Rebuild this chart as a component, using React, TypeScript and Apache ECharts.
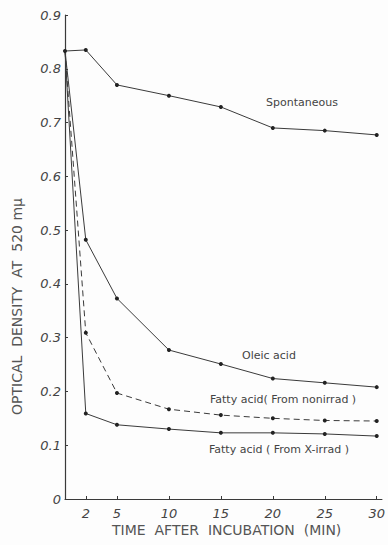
import React, { useEffect, useRef } from "react";
import * as echarts from "echarts";

// Incubation times (min) and optical density readings at 520 mμ
const times = [0, 2, 5, 10, 15, 20, 25, 30];
const spontaneous = [0.833, 0.835, 0.77, 0.75, 0.729, 0.69, 0.685, 0.677];
const oleicAcid = [0.833, 0.482, 0.373, 0.277, 0.251, 0.224, 0.216, 0.208];
const fattyNonirrad = [0.833, 0.309, 0.197, 0.167, 0.156, 0.15, 0.146, 0.145];
const fattyXirrad = [0.833, 0.159, 0.138, 0.13, 0.123, 0.123, 0.121, 0.117];

const xTicks = [2, 5, 10, 15, 20, 25, 30];
const yTicks = [0, 0.1, 0.2, 0.3, 0.4, 0.5, 0.6, 0.7, 0.8, 0.9];

const ink = "#3a3a3a";
const font = "'DejaVu Sans', sans-serif";

function pairs(vals: number[], dotFirst: boolean) {
  return times.map((t, i) =>
    i === 0 && !dotFirst ? { value: [t, vals[i]], symbol: "none" } : { value: [t, vals[i]] }
  );
}

function lineSeries(name: string, vals: number[], type: string, dotFirst = false) {
  return {
    name,
    type: "line",
    data: pairs(vals, dotFirst),
    symbol: "circle",
    symbolSize: 4,
    itemStyle: { color: "#222" },
    lineStyle: { color: ink, width: 1, type: type === "dashed" ? [6, 4] : "solid" },
    silent: true,
  };
}

export default function App() {
  const ref = useRef<HTMLDivElement>(null);
  useEffect(() => {
    if (!ref.current) return;
    const chart = echarts.init(ref.current, undefined, { renderer: "svg" });
    const curveLabel = (text: string, x: number, y: number) => ({
      type: "text",
      left: x,
      top: y,
      style: { text, font: `11px ${font}`, fill: "#444" },
    });
    chart.setOption({
      animation: false,
      backgroundColor: "#fdfdfd",
      grid: { left: 65, right: 0, top: 15, bottom: 46 },
      xAxis: {
        type: "value",
        min: 0,
        max: 30.5,
        axisLine: { lineStyle: { color: ink, width: 1.2 } },
        axisTick: { show: true, inside: true, length: 3, customValues: xTicks, lineStyle: { color: ink } },
        axisLabel: {
          customValues: xTicks,
          color: "#444",
          fontSize: 13,
          fontStyle: "italic",
          fontFamily: font,
          margin: 8,
          showMaxLabel: true,
        },
        splitLine: { show: false },
      },
      yAxis: {
        type: "value",
        min: 0,
        max: 0.9,
        axisLine: { show: true, lineStyle: { color: ink, width: 1.2 } },
        axisTick: { show: true, inside: true, length: 3, customValues: yTicks, lineStyle: { color: ink } },
        axisLabel: {
          customValues: yTicks,
          color: "#444",
          fontSize: 13,
          fontStyle: "italic",
          fontFamily: font,
          margin: 4,
          formatter: (v: number) => (v === 0 ? "0" : v.toFixed(1)),
        },
        splitLine: { show: false },
      },
      series: [
        lineSeries("Spontaneous", spontaneous, "solid", true),
        lineSeries("Oleic acid", oleicAcid, "solid"),
        lineSeries("Fatty acid (From nonirrad)", fattyNonirrad, "dashed"),
        lineSeries("Fatty acid (From X-irrad)", fattyXirrad, "solid"),
      ],
      graphic: [
        curveLabel("Spontaneous", 266, 97),
        curveLabel("Oleic acid", 242, 350),
        curveLabel("Fatty acid( From nonirrad )", 210, 394),
        curveLabel("Fatty acid ( From X-irrad )", 209, 444),
        {
          type: "text",
          left: 112,
          top: 523,
          style: { text: "TIME  AFTER  INCUBATION  (MIN)", font: `14px ${font}`, fill: "#555" },
        },
        {
          type: "text",
          x: 10,
          y: 415,
          rotation: Math.PI / 2,
          style: {
            text: "OPTICAL  DENSITY  AT  520 mμ",
            font: `14px ${font}`,
            fill: "#555",
          },
        },
      ],
    });
    return () => chart.dispose();
  }, []);
  return <div ref={ref} style={{ position: "fixed", left: 0, top: 0, width: 388, height: 545 }} />;
}
